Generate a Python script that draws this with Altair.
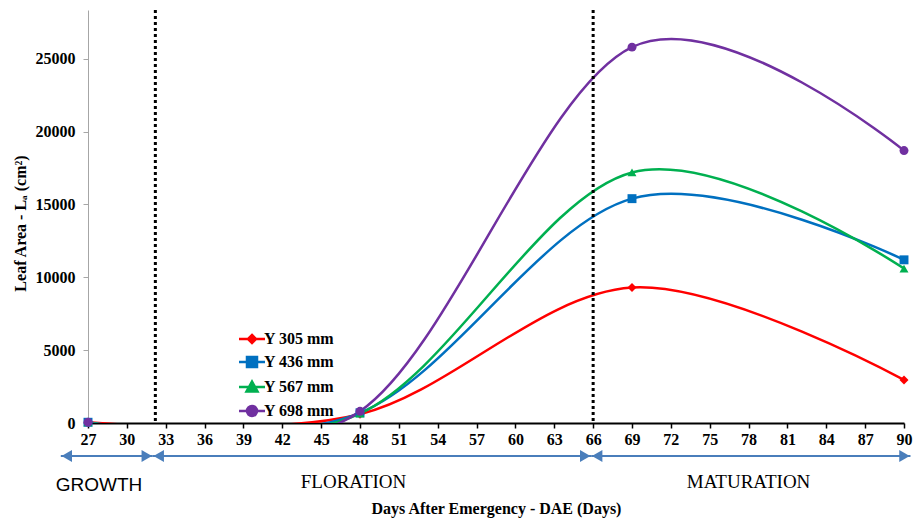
import altair as alt
import pandas as pd

# ---- data ----
days = [27, 48, 69, 90]
series_names = ["Y 305 mm", "Y 436 mm", "Y 567 mm", "Y 698 mm"]
y305 = [50, 600, 9300, 2950]
y436 = [50, 700, 15400, 11200]
y567 = [50, 650, 17200, 10600]
y698 = [50, 800, 25800, 18700]
series_values = [y305, y436, y567, y698]
colors = ["#ff0000", "#0070c0", "#00b050", "#7030a0"]
marker_shapes = ["diamond", "square", "triangle-up", "circle"]
legend_shapes = [
    "M-2.6,0H2.6M0,-0.8L0.8,0L0,0.8L-0.8,0Z",
    "M-2.6,0H2.6M-1,-1H1V1H-1Z",
    "M-2.6,0H2.6M0,-1.1L1.1,0.9H-1.1Z",
    "M-2.6,0H2.6M-1,0A1,1,0,1,0,1,0A1,1,0,1,0,-1,0Z",
]
x_ticks = [27, 30, 33, 36, 39, 42, 45, 48, 51, 54, 57, 60, 63, 66, 69, 72, 75, 78, 81, 84, 87, 90]
y_ticks = [0, 5000, 10000, 15000, 20000, 25000]
phase_lines = [32.2, 66]
phase_names = ["GROWTH", "FLORATION", "MATURATION"]
phase_label_day = [27.85, 47.5, 78.0]
arrow_start = [24.9, 32.0, 65.85]
arrow_end = [32.0, 65.85, 90.5]

rows = []
for name, vals in zip(series_names, series_values):
    for d, v in zip(days, vals):
        rows.append({"day": d, "value": v, "series": name})
df = pd.DataFrame(rows)

BLUE = "#4a7ebb"
SERIF = "Liberation Serif"

xscale = alt.Scale(domain=[27, 90], nice=False, zero=False)
yscale = alt.Scale(domain=[0, 28350], nice=False)
cscale = alt.Scale(domain=series_names, range=colors)

xaxis = alt.Axis(
    values=x_ticks, title="Days After Emergency - DAE (Days)", grid=False,
    domainColor="black", domainWidth=2, tickColor="black", tickWidth=1.5, tickSize=5,
    labelFont=SERIF, labelFontWeight="bold", labelFontSize=16, labelColor="black",
    labelPadding=3, labelFlush=False, labelOverlap=False, format="d",
    titleFont=SERIF, titleFontWeight="bold", titleFontSize=16, titleColor="black",
    titleY=85, titleBaseline="middle",
)
yaxis = alt.Axis(
    values=y_ticks, title="Leaf Area - Lₐ (cm²)", grid=False, format="d",
    domainColor="#a6a6a6", domainWidth=1, tickColor="#a6a6a6", tickSize=5,
    labelFont=SERIF, labelFontWeight="bold", labelFontSize=16, labelColor="black",
    labelPadding=8, labelOverlap=False,
    titleFont=SERIF, titleFontWeight="bold", titleFontSize=16, titleColor="black",
    titleX=-68, titleY=213, titleAngle=270, titleBaseline="middle", titleAlign="center",
)


def XF(field):
    return alt.X(field, scale=xscale, axis=xaxis)


Y = alt.Y("value:Q", scale=yscale, axis=yaxis)

lines = alt.Chart(df).mark_line(interpolate="cardinal", strokeWidth=2.5, clip=True).encode(
    x=XF("day:Q"), y=Y, color=alt.Color("series:N", scale=cscale, legend=None)
)

points = alt.Chart(df).mark_point(filled=True, size=80, opacity=1).encode(
    x=XF("day:Q"), y=Y,
    color=alt.Color("series:N", scale=cscale, legend=None),
    shape=alt.Shape("series:N", scale=alt.Scale(domain=series_names, range=marker_shapes), legend=None),
)

leg = dict(
    orient="none", legendX=156, legendY=321, title=None,
    labelFont=SERIF, labelFontWeight="bold", labelFontSize=16, labelColor="black",
    symbolSize=100, symbolStrokeWidth=2.5, symbolOpacity=1, labelOffset=4,
    rowPadding=4, padding=0,
)
legend_layer = alt.Chart(df).transform_filter("datum.value < -1000000").mark_point(
    filled=True, size=100, strokeWidth=2.5, opacity=1
).encode(
    x=XF("day:Q"), y=Y,
    fill=alt.Fill("series:N", scale=alt.Scale(domain=series_names, range=colors), legend=alt.Legend(**leg)),
    stroke=alt.Stroke("series:N", scale=alt.Scale(domain=series_names, range=colors), legend=alt.Legend(**leg)),
    shape=alt.Shape("series:N", scale=alt.Scale(domain=series_names, range=legend_shapes), legend=alt.Legend(**leg)),
)

vlines = alt.Chart(pd.DataFrame({"day": phase_lines})).mark_rule(
    color="black", strokeWidth=3, strokeDash=[3, 3]
).encode(x=XF("day:Q"))

arrows_df = pd.DataFrame({"day": arrow_start, "day2": arrow_end})
arrow_lines = alt.Chart(arrows_df).mark_rule(color=BLUE, strokeWidth=2).encode(
    x=XF("day:Q"), x2="day2:Q", y=alt.value(446)
)
heads_right = alt.Chart(arrows_df).mark_point(
    shape="triangle-right", size=144, filled=True, color=BLUE, opacity=1, xOffset=-6
).encode(x=XF("day2:Q"), y=alt.value(446))
heads_left = alt.Chart(arrows_df).mark_point(
    shape="triangle-left", size=144, filled=True, color=BLUE, opacity=1, xOffset=6
).encode(x=XF("day:Q"), y=alt.value(446))

labels_df = pd.DataFrame({"day": phase_label_day, "name": phase_names})
label_sans = alt.Chart(labels_df).transform_filter("datum.name == 'GROWTH'").mark_text(
    font="Liberation Sans", fontSize=19, color="black", baseline="middle"
).encode(x=XF("day:Q"), y=alt.value(475), text="name:N")
label_serif = alt.Chart(labels_df).transform_filter("datum.name != 'GROWTH'").mark_text(
    font=SERIF, fontSize=19, color="black", baseline="middle"
).encode(x=XF("day:Q"), y=alt.value(472), text="name:N")

chart = alt.layer(
    lines, vlines, points, legend_layer, arrow_lines, heads_right, heads_left, label_sans, label_serif
).resolve_scale(
    shape="independent", fill="independent", stroke="independent"
).properties(
    width=816, height=413, autosize="none",
    padding={"left": 80, "top": 2, "right": 9, "bottom": 96},
).configure_view(stroke=None).configure_axisX(labelOverlap=False)

chart.save("out.html", embed_options={"renderer": "svg", "actions": False})
